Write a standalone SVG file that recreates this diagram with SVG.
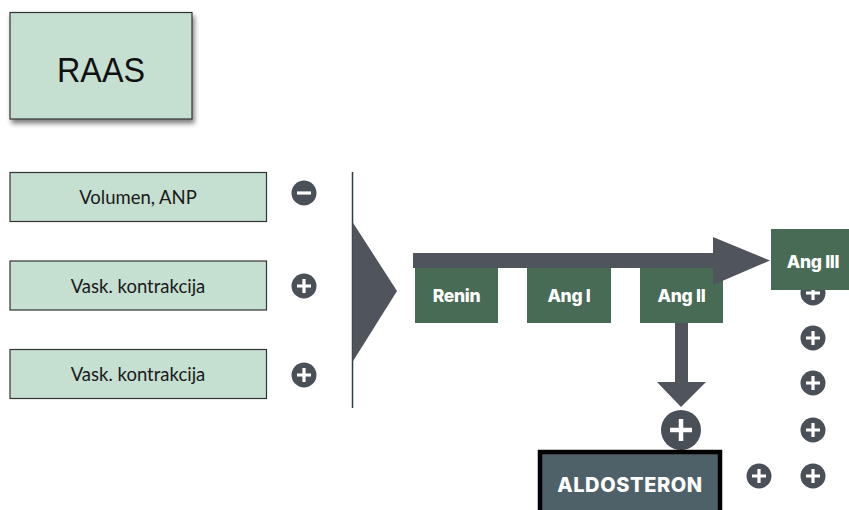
<svg xmlns="http://www.w3.org/2000/svg" width="849" height="510" viewBox="0 0 849 510">
  <defs>
    <filter id="shadow" x="-10%" y="-10%" width="130%" height="130%">
      <feGaussianBlur in="SourceAlpha" stdDeviation="2.5"/>
      <feOffset dx="2" dy="4" result="b"/>
      <feComponentTransfer><feFuncA type="linear" slope="0.5"/></feComponentTransfer>
      <feMerge><feMergeNode/><feMergeNode in="SourceGraphic"/></feMerge>
    </filter>
    <g id="plus">
      <circle r="12.5" fill="#4a5058"/>
      <path d="M-7 0H7M0 -7V7" stroke="#fff" stroke-width="3.2"/>
    </g>
  </defs>
  <style>
    .mint{fill:#c5dfd1;stroke:#333;stroke-width:1.2}
    .lbl{font-family:Lato,"Open Sans","Liberation Sans",sans-serif;font-size:18.5px;fill:#1a1a1a;text-anchor:middle}
    .step{fill:#476b55}
    .steplbl{font-family:Inter,"Liberation Sans",sans-serif;font-weight:800;font-size:17.5px;fill:#fff;text-anchor:middle;letter-spacing:-0.3px}
    .dark{fill:#50555d}
  </style>

  <rect width="849" height="510" fill="#fff"/>

  <g id="raas">
    <rect x="10" y="12.5" width="182" height="106.5" class="mint" filter="url(#shadow)"/>
    <text x="101" y="82" font-family="'Liberation Sans',Arial,sans-serif" font-size="35" fill="#111" text-anchor="middle" textLength="88" lengthAdjust="spacingAndGlyphs">RAAS</text>
  </g>

  <g id="volumen">
    <rect x="10" y="172.5" width="256.5" height="49" class="mint"/>
    <text x="138" y="204" class="lbl">Volumen, ANP</text>
  </g>
  <g id="vask1">
    <rect x="10" y="261" width="256.5" height="49" class="mint"/>
    <text x="138" y="292.5" class="lbl">Vask. kontrakcija</text>
  </g>
  <g id="vask2">
    <rect x="10" y="349.5" width="256.5" height="49" class="mint"/>
    <text x="138" y="381" class="lbl">Vask. kontrakcija</text>
  </g>

  <g id="signs-left">
    <circle cx="304" cy="193" r="12.5" fill="#4a5058"/>
    <path d="M297 193H311" stroke="#fff" stroke-width="3.2"/>
    <use href="#plus" x="304" y="286"/>
    <use href="#plus" x="304" y="375"/>
  </g>

  <g id="signs-right">
    <use href="#plus" x="813" y="293"/>
    <use href="#plus" x="813" y="338"/>
    <use href="#plus" x="813" y="383"/>
    <use href="#plus" x="813" y="430"/>
    <use href="#plus" x="813" y="476"/>
    <use href="#plus" x="759" y="476"/>
  </g>

  <g id="renin">
    <rect x="415" y="268" width="83" height="55" class="step"/>
    <text x="456.5" y="301.5" class="steplbl">Renin</text>
  </g>
  <g id="ang1">
    <rect x="527" y="268" width="84" height="55" class="step"/>
    <text x="569" y="301.5" class="steplbl">Ang I</text>
  </g>
  <g id="ang2">
    <rect x="640" y="268" width="83" height="55" class="step"/>
    <text x="681.5" y="301.5" class="steplbl">Ang II</text>
  </g>
  <g id="ang3">
    <rect x="771" y="229" width="80" height="61" class="step"/>
    <text x="813" y="267.5" class="steplbl">Ang III</text>
  </g>

  <g id="connectors">
    <line x1="352.5" y1="172" x2="352.5" y2="408" stroke="#2f3b45" stroke-width="1.5"/>
    <polygon points="352.5,222 397,291 352.5,362" class="dark"/>
    <polygon points="413,253 713,253 713,237 770,260.5 713,285 713,268 413,268" class="dark"/>
    <polygon points="675,323 688,323 688,382 706,382 681,407 657,382 675,382" class="dark"/>
  </g>

  <g id="plus-main">
    <circle cx="681" cy="430" r="20" fill="#4a5058"/>
    <path d="M670 430H692M681 419V441" stroke="#fff" stroke-width="4.5"/>
  </g>

  <g id="aldosteron">
    <rect x="540" y="452" width="180" height="62" fill="#4e6168" stroke="#000" stroke-width="4.5"/>
    <text x="630" y="492" font-family="Inter,'Liberation Sans',sans-serif" font-weight="800" font-size="20" fill="#fff" text-anchor="middle" letter-spacing="0.6">ALDOSTERON</text>
  </g>
</svg>
